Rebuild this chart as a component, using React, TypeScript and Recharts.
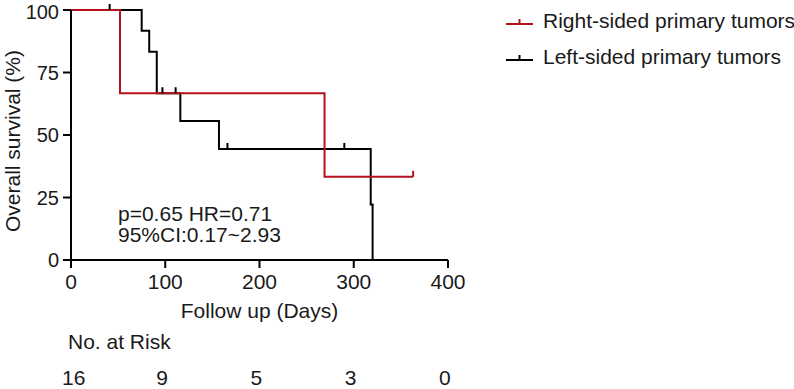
import React from "react";
import { LineChart, Line, XAxis, YAxis } from "recharts";

// axis ticks and the number-at-risk row
const xTicks = [0, 100, 200, 300, 400];
const yTicks = [0, 25, 50, 75, 100];
const atRisk = [16, 9, 5, 3, 0];

// Kaplan-Meier steps: day, survival (%), censored (1) or event (0)
const rightDays = [0, 52, 269, 363];
const rightSurv = [100, 66.7, 33.3, 33.3];
const rightCens = [0, 0, 0, 1];

const leftDays = [0, 41, 75, 83, 91, 97, 111, 116, 157, 166, 290, 318, 320];
const leftSurv = [100, 100, 91.7, 83.3, 66.7, 66.7, 66.7, 55.6, 44.4, 44.4, 44.4, 22.2, 0];
const leftCens = [0, 1, 0, 0, 0, 1, 1, 0, 0, 1, 1, 0, 0];

const seriesNames = ["Right-sided primary tumors", "Left-sided primary tumors"];
const seriesColors = ["#b5121b", "#000000"];

const stats = ["p=0.65 HR=0.71", "95%CI:0.17~2.93"];

const FONT = "Arial, 'Liberation Sans', sans-serif";
const TEXT = "#1a1a1a";

const toRows = (days: number[], surv: number[], cens: number[]) =>
  days.map((d, i) => ({ day: d, surv: surv[i], cens: cens[i] }));

const rightRows = toRows(rightDays, rightSurv, rightCens);
const leftRows = toRows(leftDays, leftSurv, leftCens);
// hidden series so the at-risk axis has data behind it
const riskRows = xTicks.map((d, i) => ({ day: d, n: atRisk[i] }));

// small upward tick for censored patients
const makeCensorDot = (color: string) => (props: any) => {
  const { cx, cy, payload, index } = props;
  if (!payload || !payload.cens) return <g key={`n-${index}`} />;
  return (
    <line
      key={`c-${index}`}
      x1={cx}
      x2={cx}
      y1={cy}
      y2={cy - 6}
      stroke={color}
      strokeWidth={2}
    />
  );
};

const RiskTick = (props: any) => {
  const { x, y, payload } = props;
  const i = xTicks.indexOf(payload.value);
  return (
    <text
      x={x - 9}
      y={y}
      dy="0.71em"
      textAnchor="start"
      fontSize={21}
      fontFamily={FONT}
      fill={TEXT}
    >
      {atRisk[i]}
    </text>
  );
};

const axisStroke = { stroke: "#000", strokeWidth: 2 };

export default function App() {
  return (
    <div
      style={{
        position: "absolute",
        left: 0,
        top: 0,
        width: 794,
        height: 389,
        background: "#fff",
        fontFamily: FONT,
      }}
    >
      <LineChart
        width={794}
        height={389}
        margin={{ top: 10, right: 346, left: 11, bottom: 0 }}
      >
        <XAxis
          xAxisId="main"
          type="number"
          dataKey="day"
          domain={[0, 400]}
          ticks={xTicks}
          height={100}
          axisLine={axisStroke}
          tickLine={axisStroke}
          tickSize={8}
          tickMargin={6}
          tick={{ fontSize: 21, fill: TEXT, fontFamily: FONT }}
          label={{
            value: "Follow up (Days)",
            position: "insideTop",
            offset: 43,
            fontSize: 21,
            fill: TEXT,
            fontFamily: FONT,
          }}
        />
        <XAxis
          xAxisId="risk"
          type="number"
          dataKey="day"
          domain={[0, 400]}
          ticks={xTicks}
          height={29}
          axisLine={false}
          tickLine={false}
          tickSize={0}
          tickMargin={10}
          tick={<RiskTick />}
        />
        <YAxis
          type="number"
          domain={[0, 100]}
          ticks={yTicks}
          width={60}
          axisLine={axisStroke}
          tickLine={axisStroke}
          tickSize={8}
          tickMargin={4}
          tick={{ fontSize: 20, fill: TEXT, fontFamily: FONT }}
        />
        <Line
          xAxisId="risk"
          data={riskRows}
          dataKey="n"
          stroke="none"
          dot={false}
          activeDot={false}
          isAnimationActive={false}
          legendType="none"
        />
        <Line
          xAxisId="main"
          data={leftRows}
          dataKey="surv"
          type="stepAfter"
          stroke={seriesColors[1]}
          strokeWidth={2}
          dot={makeCensorDot(seriesColors[1])}
          activeDot={false}
          isAnimationActive={false}
        />
        <Line
          xAxisId="main"
          data={rightRows}
          dataKey="surv"
          type="stepAfter"
          stroke={seriesColors[0]}
          strokeWidth={2}
          dot={makeCensorDot(seriesColors[0])}
          activeDot={false}
          isAnimationActive={false}
        />
      </LineChart>

      {/* labels, stats and legend */}
      <svg
        width={794}
        height={389}
        style={{ position: "absolute", left: 0, top: 0, pointerEvents: "none" }}
        fontFamily={FONT}
        fontSize={21}
        fill={TEXT}
      >
        <text
          x={20}
          y={141}
          textAnchor="middle"
          transform="rotate(-90, 20, 141)"
        >
          Overall survival (%)
        </text>
        {stats.map((s, i) => (
          <text key={s} x={118} y={221 + i * 21}>
            {s}
          </text>
        ))}
        <text x={68} y={349}>
          No. at Risk
        </text>
        {seriesNames.map((name, i) => {
          const y = 24 + i * 36;
          return (
            <g key={name}>
              <line x1={506} x2={533} y1={y} y2={y} stroke={seriesColors[i]} strokeWidth={2} />
              <line x1={519.5} x2={519.5} y1={y} y2={y - 5} stroke={seriesColors[i]} strokeWidth={2} />
              <text x={543} y={y + 4}>
                {name}
              </text>
            </g>
          );
        })}
      </svg>
    </div>
  );
}
